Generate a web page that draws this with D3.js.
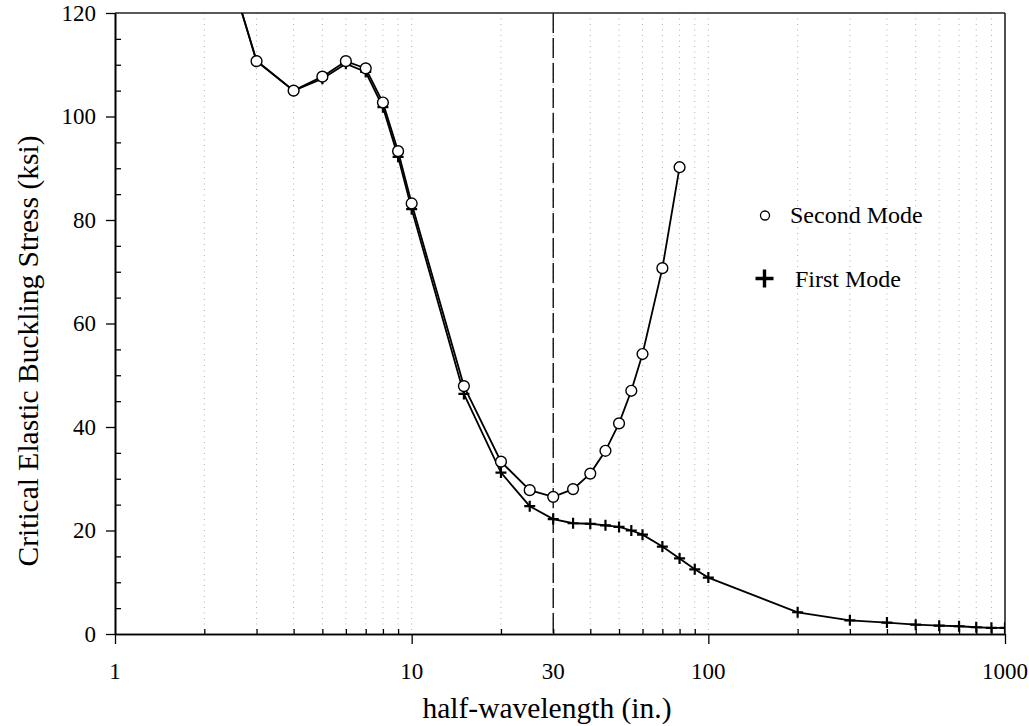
<!DOCTYPE html>
<html>
<head>
<meta charset="utf-8">
<script src="https://cdn.jsdelivr.net/npm/d3@7"></script>
<style>
  html, body { margin: 0; padding: 0; background: #fff; }
  svg { display: block; }
  text { font-family: "Liberation Serif", "Times New Roman", serif; fill: #000; }
</style>
</head>
<body>
<svg id="chart" width="1029" height="726"></svg>
<script>
// ---- data ----
const halfWavelengthFirst = [2, 3, 4, 5, 6, 7, 8, 9, 10, 15, 20, 25, 30, 35, 40, 45, 50, 55, 60, 70, 80, 90, 100, 200, 300, 400, 500, 600, 700, 800, 900, 1000];
const firstMode = [144, 110.8, 105.0, 107.3, 110.2, 108.6, 101.8, 92.2, 82.1, 46.4, 31.2, 24.7, 22.2, 21.4, 21.3, 21.0, 20.7, 20.0, 19.2, 16.9, 14.6, 12.5, 10.9, 4.2, 2.65, 2.2, 1.8, 1.6, 1.5, 1.3, 1.2, 1.2];
const halfWavelengthSecond = [2, 3, 4, 5, 6, 7, 8, 9, 10, 15, 20, 25, 30, 35, 40, 45, 50, 55, 60, 70, 80];
const secondMode = [144, 110.7, 105.0, 107.7, 110.7, 109.3, 102.7, 93.3, 83.2, 47.9, 33.3, 27.8, 26.5, 28.0, 31.0, 35.4, 40.7, 47.0, 54.1, 70.7, 90.2];
const xMajorTicks = [1, 10, 100, 1000];
const xMinorTicks = [2, 3, 4, 5, 6, 7, 8, 9, 20, 30, 40, 50, 60, 70, 80, 90, 200, 300, 400, 500, 600, 700, 800, 900];
const xGridValues = [2, 3, 4, 5, 6, 7, 8, 9, 10, 20, 30, 40, 50, 60, 70, 80, 90, 100, 200, 300, 400, 500, 600, 700, 800, 900];
const xTickLabels = [1, 10, 30, 100, 1000];
const yMajorTicks = [0, 20, 40, 60, 80, 100, 120];
const yMinorTicks = [5, 10, 15, 25, 30, 35, 45, 50, 55, 65, 70, 75, 85, 90, 95, 105, 110, 115];
const referenceLength = 30;
const legendLabels = ["Second Mode", "First Mode"];
const xTitle = "half-wavelength (in.)";
const yTitle = "Critical Elastic Buckling Stress (ksi)";

// ---- layout ----
const L = 115, R = 1005, T = 13, B = 634;
const svg = d3.select("#chart");
const x = d3.scaleLog().domain([1, 1000]).range([L, R]);
const y = d3.scaleLinear().domain([0, 120]).range([B, T]);

svg.append("defs").append("clipPath").attr("id", "plotclip")
  .append("rect").attr("x", L).attr("y", T).attr("width", R - L).attr("height", B - T);

// grid
svg.append("g").selectAll("line").data(xGridValues).join("line")
  .attr("x1", d => x(d)).attr("x2", d => x(d))
  .attr("y1", T).attr("y2", B)
  .attr("stroke", "#b0b0b0").attr("stroke-width", 1)
  .attr("stroke-dasharray", "1,4.5");

// reference dashed line
svg.append("line")
  .attr("x1", x(referenceLength)).attr("x2", x(referenceLength))
  .attr("y1", T).attr("y2", B)
  .attr("stroke", "#000").attr("stroke-width", 1.3)
  .attr("stroke-dasharray", "20,5");

// frame (top, right)
svg.append("line").attr("x1", L).attr("x2", R).attr("y1", T).attr("y2", T)
  .attr("stroke", "#222").attr("stroke-width", 1.6);
svg.append("line").attr("x1", R).attr("x2", R).attr("y1", T).attr("y2", B)
  .attr("stroke", "#222").attr("stroke-width", 1.6);

// x axis
const xMajorAxis = svg.append("g").attr("transform", `translate(0,${B})`)
  .call(d3.axisBottom(x).tickValues(xMajorTicks).tickSize(10).tickSizeOuter(0).tickFormat(""));
const xMinorAxis = svg.append("g").attr("transform", `translate(0,${B})`)
  .call(d3.axisBottom(x).tickValues(xMinorTicks).tickSize(-5).tickSizeOuter(0).tickFormat(""));
[xMajorAxis, xMinorAxis].forEach(g => {
  g.select(".domain").attr("stroke", "#000").attr("stroke-width", 1.6);
  g.selectAll(".tick line").attr("stroke", "#000").attr("stroke-width", 1.3);
});
svg.append("g").selectAll("text").data(xTickLabels).join("text")
  .attr("x", d => x(d)).attr("y", 679)
  .attr("text-anchor", "middle").attr("font-size", 23)
  .text(d => d);

// y axis
const yMajorAxis = svg.append("g").attr("transform", `translate(${L},0)`)
  .call(d3.axisLeft(y).tickValues(yMajorTicks).tickSize(9).tickSizeOuter(0).tickFormat(""));
const yMinorAxis = svg.append("g").attr("transform", `translate(${L},0)`)
  .call(d3.axisLeft(y).tickValues(yMinorTicks).tickSize(-6).tickSizeOuter(0).tickFormat(""));
[yMajorAxis, yMinorAxis].forEach(g => {
  g.select(".domain").attr("stroke", "#000").attr("stroke-width", 1.6);
  g.selectAll(".tick line").attr("stroke", "#000").attr("stroke-width", 1.3);
});
svg.append("g").selectAll("text").data(yMajorTicks).join("text")
  .attr("x", 96).attr("y", d => y(d)).attr("dy", "0.34em")
  .attr("text-anchor", "end").attr("font-size", 23)
  .text(d => d);

// titles
svg.append("text").attr("x", 547).attr("y", 718)
  .attr("text-anchor", "middle").attr("font-size", 29.5).text(xTitle);
svg.append("text")
  .attr("transform", "translate(38,351) rotate(-90)")
  .attr("text-anchor", "middle").attr("font-size", 29.5).text(yTitle);

// series
const plot = svg.append("g").attr("clip-path", "url(#plotclip)");
const first = halfWavelengthFirst.map((h, i) => [h, firstMode[i]]);
const second = halfWavelengthSecond.map((h, i) => [h, secondMode[i]]);
const line = d3.line().x(d => x(d[0])).y(d => y(d[1]));

plot.append("path").datum(first).attr("d", line)
  .attr("fill", "none").attr("stroke", "#000").attr("stroke-width", 1.8);
const crossPath = s => `M${-s},0H${s}M0,${-s}V${s}`;
plot.append("g").selectAll("path").data(first).join("path")
  .attr("transform", d => `translate(${x(d[0])},${y(d[1])})`)
  .attr("d", crossPath(5.5))
  .attr("stroke", "#000").attr("stroke-width", 2.2).attr("fill", "none");

plot.append("path").datum(second).attr("d", line)
  .attr("fill", "none").attr("stroke", "#000").attr("stroke-width", 1.8);
plot.append("g").selectAll("circle").data(second).join("circle")
  .attr("cx", d => x(d[0])).attr("cy", d => y(d[1])).attr("r", 5.4)
  .attr("fill", "#fff").attr("stroke", "#000").attr("stroke-width", 1.4);

// legend
svg.append("circle").attr("cx", 765).attr("cy", 215.5).attr("r", 4.5)
  .attr("fill", "#fff").attr("stroke", "#000").attr("stroke-width", 1.3);
svg.append("text").attr("x", 790).attr("y", 223).attr("font-size", 24).text(legendLabels[0]);
svg.append("path").attr("transform", "translate(764.5,278.5)")
  .attr("d", crossPath(9)).attr("stroke", "#000").attr("stroke-width", 3.4);
svg.append("text").attr("x", 795).attr("y", 287).attr("font-size", 24).text(legendLabels[1]);
</script>
</body>
</html>
